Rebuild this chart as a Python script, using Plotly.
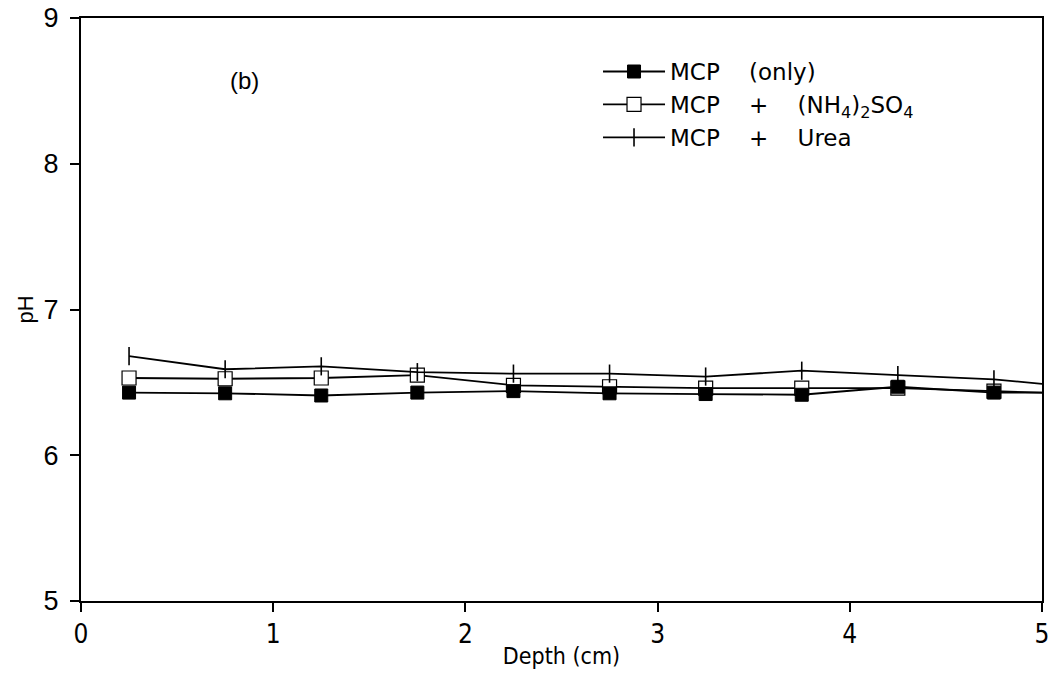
import plotly.graph_objects as go

depth = [0.25, 0.75, 1.25, 1.75, 2.25, 2.75, 3.25, 3.75, 4.25, 4.75, 5.25]
ph_mcp_only = [6.43, 6.425, 6.41, 6.43, 6.44, 6.425, 6.42, 6.415, 6.47, 6.43, 6.43]
ph_mcp_nh4 = [6.53, 6.525, 6.53, 6.55, 6.48, 6.47, 6.46, 6.46, 6.46, 6.44, 6.42]
ph_mcp_urea = [6.68, 6.59, 6.61, 6.57, 6.56, 6.56, 6.54, 6.58, 6.55, 6.52, 6.46]

sp = "\u00a0" * 4
names = ["MCP" + sp + "(only)",
         "MCP" + sp + "+" + sp + "(NH<sub>4</sub>)<sub>2</sub>SO<sub>4</sub>",
         "MCP" + sp + "+" + sp + "Urea"]
panel_label = "(b)"
x_title = "Depth (cm)"
y_title = "pH"

fig = go.Figure()
fig.add_trace(go.Scatter(
    x=depth, y=ph_mcp_nh4, name=names[1], mode="lines+markers", legendrank=2,
    line=dict(color="black", width=1.8),
    marker=dict(symbol="square", size=14, color="white", line=dict(color="black", width=1.2)),
))
fig.add_trace(go.Scatter(
    x=depth, y=ph_mcp_only, name=names[0], mode="lines+markers", legendrank=1,
    line=dict(color="black", width=1.8),
    marker=dict(symbol="square", size=13, color="black", line=dict(color="black", width=1)),
))
fig.add_trace(go.Scatter(
    x=depth, y=ph_mcp_urea, name=names[2], mode="lines+markers", legendrank=3,
    line=dict(color="black", width=1.8),
    marker=dict(symbol="line-ns", size=13, color="black", line=dict(color="black", width=1.6)),
))

fig.add_annotation(x=0.85, y=8.57, xref="x", yref="y", text=panel_label, showarrow=False,
                   font=dict(family="Liberation Sans, Arial, sans-serif", size=24, color="black"))

narrow = "Liberation Sans Narrow, DejaVu Sans Condensed, Liberation Sans, sans-serif"
fig.update_layout(
    template="none",
    width=1056, height=677,
    margin=dict(l=81, r=14, t=18, b=76, autoexpand=False),
    paper_bgcolor="white", plot_bgcolor="white",
    showlegend=True,
    legend=dict(x=0.538, y=0.945, xanchor="left", yanchor="top",
                font=dict(family="DejaVu Sans, sans-serif", size=23, color="black"),
                bgcolor="rgba(0,0,0,0)", itemwidth=62, tracegroupgap=0),
    xaxis=dict(range=[0, 5], dtick=1, tick0=0, showgrid=False, zeroline=False, automargin=False,
               showline=True, linecolor="black", linewidth=2, mirror=True,
               ticks="outside", ticklen=9, tickwidth=1.5, tickcolor="black",
               tickfont=dict(family=narrow, size=26, color="black"),
               title=dict(text=x_title, font=dict(family=narrow, size=23, color="black"), standoff=0)),
    yaxis=dict(range=[5, 9], dtick=1, tick0=5, showgrid=False, zeroline=False, automargin=False,
               showline=True, linecolor="black", linewidth=2, mirror=True,
               ticks="outside", ticklen=9, tickwidth=1.5, tickcolor="black", ticklabelstandoff=6,
               tickfont=dict(family="Liberation Sans, Arial, sans-serif", size=27, color="black"),
               title=dict(text=y_title, font=dict(family="Liberation Sans, Arial, sans-serif", size=22, color="black"), standoff=4)),
)

fig.write_html("out.html", config={"displayModeBar": False},
               post_script="document.body.style.margin='0px';")
